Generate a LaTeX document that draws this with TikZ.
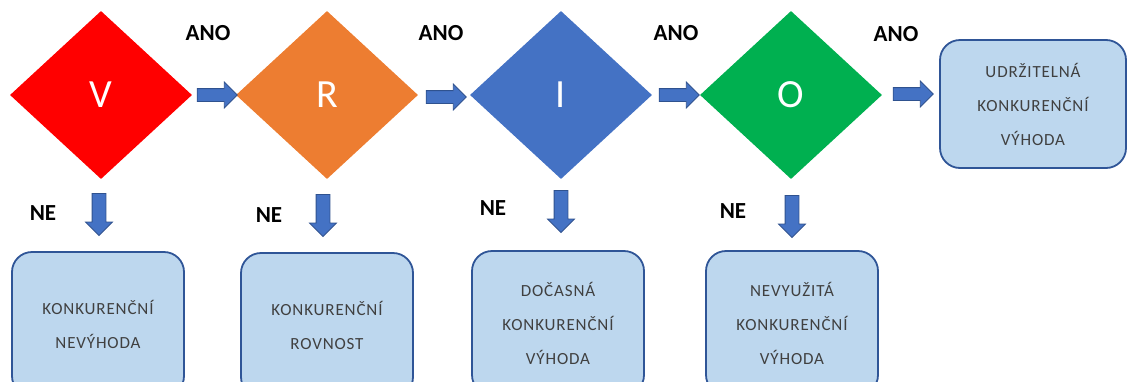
\documentclass[tikz,border=0pt]{standalone}
\usepackage{fontspec}
\setmainfont{Carlito}
\newfontfamily\spacedfont[LetterSpace=5]{Carlito}
\usetikzlibrary{shapes.geometric,shapes.arrows}

\definecolor{vred}{HTML}{FF0000}
\definecolor{rorange}{HTML}{ED7D31}
\definecolor{iblue}{HTML}{4472C4}
\definecolor{ogreen}{HTML}{00B050}
\definecolor{arrowline}{HTML}{2F528F}
\definecolor{boxfill}{HTML}{BDD7EE}
\definecolor{boxline}{HTML}{2F5597}
\definecolor{boxtext}{HTML}{404040}

\tikzset{
    decision/.style={diamond, fill=#1, minimum width=182pt, minimum height=168pt,
        aspect=1.08, inner sep=0pt, text=white, font=\fontsize{40}{40}\selectfont},
    result/.style={draw=boxline, line width=1.8pt, fill=boxfill, rounded corners=20pt,
        minimum width=172pt, minimum height=144pt, align=center, text=boxtext,
        font=\spacedfont\fontsize{17}{34}\selectfont},
    rightarrow/.style={single arrow, fill=iblue, draw=arrowline, line width=0.8pt,
        minimum height=40pt, minimum width=0pt, single arrow head extend=6.5pt,
        inner xsep=0pt, inner ysep=6pt},
    downarrow/.style={rightarrow, minimum height=42pt, minimum width=0pt,
        inner xsep=6.5pt, inner ysep=0pt, shape border rotate=270},
    answer/.style={font=\bfseries\fontsize{23}{23}\selectfont}
}

\begin{document}
\begin{tikzpicture}[x=1pt,y=-1pt]
    \useasboundingbox (0,0) rectangle (1127,381);
    \clip (0,0) rectangle (1127,381);

    % the four VRIO questions
    \node[decision=vred] (v) at (101,95) {V};
    \node[decision=rorange] (r) at (327,95) {R};
    \node[decision=iblue] (i) at (561,95) {I};
    \node[decision=ogreen] (o) at (791,95) {O};

    % yes: go on to the right
    \node[rightarrow] (vr) at (214,95) {};
    \node[rightarrow] (ri) at (443,97) {};
    \node[rightarrow] (io) at (676,95) {};
    \node[rightarrow] (ou) at (910,94) {};

    \node[answer] (ano1) at (208,33) {ANO};
    \node[answer] (ano2) at (441,33) {ANO};
    \node[answer] (ano3) at (676,33) {ANO};
    \node[answer] (ano4) at (896,34) {ANO};

    % no: go down
    \node[downarrow] (vd) at (99,211) {};
    \node[downarrow] (rd) at (323,212) {};
    \node[downarrow] (id) at (561,208) {};
    \node[downarrow] (od) at (792,213) {};

    \node[answer] (ne1) at (43,213) {NE};
    \node[answer] (ne2) at (269,215) {NE};
    \node[answer] (ne3) at (493,208) {NE};
    \node[answer] (ne4) at (733,211) {NE};

    % outcomes
    \node[result, minimum width=186pt, minimum height=128pt] (udr) at (1033,104)
        {UDRŽITELNÁ\\KONKURENČNÍ\\VÝHODA};
    \node[result] (nev) at (98,324) {KONKURENČNÍ\\NEVÝHODA};
    \node[result] (rov) at (327,325) {KONKURENČNÍ\\ROVNOST};
    \node[result] (doc) at (558,323) {DOČASNÁ\\KONKURENČNÍ\\VÝHODA};
    \node[result] (nevy) at (792,323) {NEVYUŽITÁ\\KONKURENČNÍ\\VÝHODA};
\end{tikzpicture}
\end{document}
